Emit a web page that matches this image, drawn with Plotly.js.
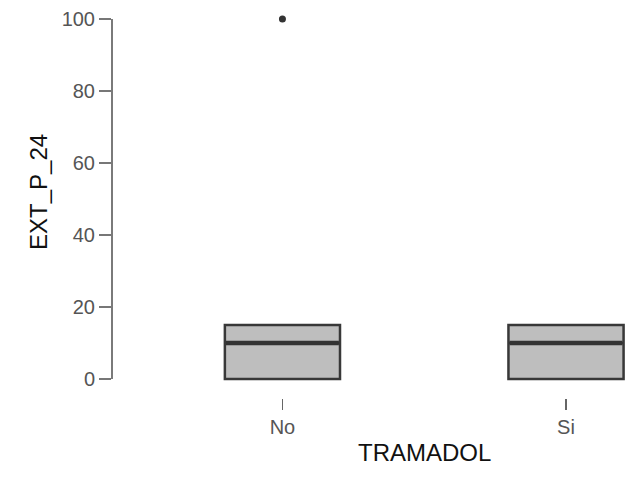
<!DOCTYPE html>
<html>
<head>
<meta charset="utf-8">
<script src="https://cdn.plot.ly/plotly-3.0.1.min.js"></script>
<style>html,body{margin:0;padding:0;background:#fff;}#chart{width:629px;height:477px;}</style>
</head>
<body>
<div id="chart"></div>
<script>
// ---- data ----
const categories = ['No', 'Si'];
const q1 = [0, 0];
const medians = [10, 10];
const q3 = [15, 15];
const lowerFence = [0, 0];
const upperFence = [15, 15];
const outlierCategory = ['No'];
const outlierValues = [100];
const yTickVals = [0, 20, 40, 60, 80, 100];
const yTickText = ['0', '20', '40', '60', '80', '100'];
const xTitle = 'TRAMADOL';
const yTitle = 'EXT_P_24';

// ---- styling ----
const boxWidth = 0.406;
const FONT = 'Liberation Sans, Arial, sans-serif';
const idx = categories.map((c, i) => i);

const traces = [];
traces.push({
  type: 'box',
  x: idx,
  q1: q1, median: medians, q3: q3,
  lowerfence: lowerFence, upperfence: upperFence,
  width: boxWidth,
  whiskerwidth: 0,
  fillcolor: '#bebebe',
  line: {color: '#383838', width: 2.5},
  boxpoints: false,
  hoverinfo: 'skip',
  showlegend: false
});
// thicker median lines
categories.forEach((c, i) => {
  traces.push({
    type: 'scatter', mode: 'lines',
    x: [i - boxWidth / 2 + 0.004, i + boxWidth / 2 - 0.004],
    y: [medians[i], medians[i]],
    line: {color: '#333333', width: 4.5},
    hoverinfo: 'skip', showlegend: false
  });
});
// outliers
traces.push({
  type: 'scatter', mode: 'markers',
  x: outlierCategory.map(c => categories.indexOf(c)),
  y: outlierValues,
  marker: {color: '#333333', size: 7},
  cliponaxis: false,
  hoverinfo: 'skip', showlegend: false
});

const yMin = Math.min(...yTickVals), yMax = Math.max(...yTickVals);

const layout = {
  width: 629, height: 477,
  margin: {l: 112, r: 4, t: 10, b: 79},
  paper_bgcolor: '#ffffff', plot_bgcolor: '#ffffff',
  showlegend: false,
  font: {family: FONT, color: '#555555', size: 20},
  xaxis: {
    range: [-0.601, 1.208],
    tickvals: idx, ticktext: categories,
    ticks: 'outside', ticklen: 11, tickwidth: 1.5, tickcolor: '#666666',
    showline: false, showgrid: false, zeroline: false,
    anchor: 'free', position: 0,
    tickfont: {family: FONT, size: 20, color: '#555555'}
  },
  yaxis: {
    domain: [0.0258, 1],
    range: [-2.5, 102.5],
    tickvals: yTickVals, ticktext: yTickText,
    ticks: 'outside', ticklen: 12, tickwidth: 1.5, tickcolor: '#777777',
    showline: false, showgrid: false, zeroline: false,
    tickfont: {family: FONT, size: 20, color: '#555555'}
  },
  shapes: [{
    type: 'line', xref: 'paper', yref: 'y',
    x0: 0, x1: 0, y0: yMin, y1: yMax,
    line: {color: '#7a7a7a', width: 2}
  }],
  annotations: [
    {text: xTitle, xref: 'x', yref: 'paper', x: 0.5, y: 0, yshift: -54,
     showarrow: false, xanchor: 'center', yanchor: 'middle',
     font: {family: FONT, size: 24, color: '#111111'}},
    {text: yTitle, xref: 'paper', yref: 'y', x: 0, xshift: -73, y: 50, yshift: 7,
     textangle: -90, showarrow: false, xanchor: 'center', yanchor: 'middle',
     font: {family: FONT, size: 24, color: '#111111'}}
  ]
};

Plotly.newPlot('chart', traces, layout, {displayModeBar: false, staticPlot: true});
</script>
</body>
</html>
